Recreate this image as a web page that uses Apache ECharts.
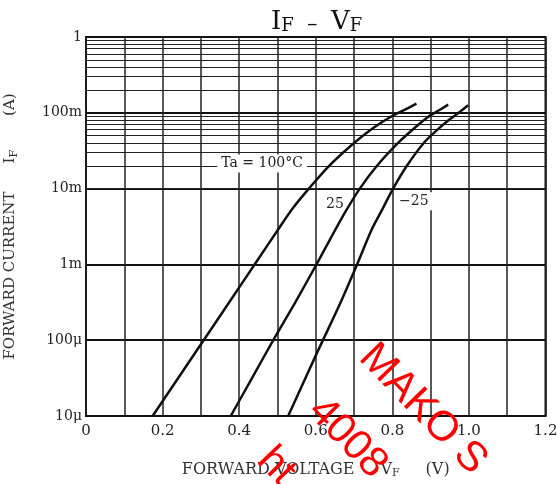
<!DOCTYPE html>
<html>
<head>
<meta charset="utf-8">
<script src="https://cdn.jsdelivr.net/npm/echarts@6/dist/echarts.min.js"></script>
<style>html,body{margin:0;padding:0;background:#fff;}#c{width:557px;height:484px;}</style>
</head>
<body>
<div id="c"></div>
<script>
// ---- data ----
const xTicks = [0, 0.2, 0.4, 0.6, 0.8, 1.0, 1.2];
const yTickValues = [1e-5, 1e-4, 1e-3, 1e-2, 1e-1, 1];
const yTickLabels = ['10μ', '100μ', '1m', '10m', '100m', '1'];
const decades = [1e-5, 1e-4, 1e-3, 1e-2, 1e-1];
const minorMultipliers = [2, 3, 4, 5, 6, 7, 8, 9];

const curve100 = [[0.174,1e-5],[0.298,8.5e-5],[0.371,3e-4],[0.446,1.1e-3],[0.500,2.8e-3],[0.540,5.5e-3],[0.582,1e-2],[0.635,2e-2],[0.700,4e-2],[0.750,6.3e-2],[0.795,8.8e-2],[0.833,1.1e-1],[0.863,1.32e-1]];
const curve25  = [[0.378,1e-5],[0.431,3e-5],[0.489,1e-4],[0.544,3e-4],[0.602,1e-3],[0.650,2.8e-3],[0.678,5e-3],[0.715,1e-2],[0.760,2e-2],[0.815,4e-2],[0.858,6.3e-2],[0.893,8.8e-2],[0.922,1.08e-1],[0.946,1.28e-1]];
const curveM25 = [[0.528,1e-5],[0.602,6.6e-5],[0.663,3e-4],[0.708,1e-3],[0.745,2.8e-3],[0.771,5e-3],[0.802,1e-2],[0.838,2e-2],[0.882,4e-2],[0.918,6e-2],[0.950,8.2e-2],[0.975,1.02e-1],[0.998,1.26e-1]];

const labels = [
  {text: 'Ta = 100°C', at: [0.46, 0.0214]},
  {text: '25', at: [0.65, 0.0062]},
  {text: '−25', at: [0.856, 0.0068]}
];

const serif = '"DejaVu Serif", "Liberation Serif", serif';
const sans = '"Liberation Sans", Arial, sans-serif';

const minorLines = [];
decades.forEach(d => minorMultipliers.forEach(k => minorLines.push({yAxis: +(d * k).toPrecision(3)})));

function lineSeries(data, lab) {
  return {
    type: 'line', data: data, smooth: 0.3, symbol: 'none',
    lineStyle: {color: '#111', width: 2.5}, z: 5,
    markPoint: {
      symbol: 'rect', symbolSize: 0, silent: true,
      data: [{coord: lab.at, value: lab.text}],
      label: {show: true, formatter: lab.text, color: '#222', fontFamily: serif, fontSize: 14,
        backgroundColor: '#fff', padding: [2, 4], position: 'inside'}
    }
  };
}

const chart = echarts.init(document.getElementById('c'), null, {renderer: 'canvas'});
const series = [
  lineSeries(curve100, labels[0]),
  lineSeries(curve25, labels[1]),
  lineSeries(curveM25, labels[2])
];
series[0].markLine = {
  silent: true, symbol: 'none', animation: false,
  label: {show: false},
  lineStyle: {color: '#222', width: 1, type: 'solid'},
  data: minorLines
};

chart.setOption({
  animation: false,
  title: {
    text: '{i|I}{s|F}{d|  –  }{i|V}{s|F}',
    left: 266, top: 3,
    textStyle: {
      fontWeight: 'normal',
      rich: {
        i: {fontFamily: serif, fontSize: 26, fontWeight: 'normal', color: '#111', verticalAlign: 'bottom', lineHeight: 27},
        d: {fontFamily: serif, fontSize: 21, fontWeight: 'normal', color: '#111', verticalAlign: 'bottom', lineHeight: 27},
        s: {fontFamily: serif, fontSize: 18, fontWeight: 'normal', color: '#111', verticalAlign: 'bottom', lineHeight: 21}
      }
    }
  },
  grid: {left: 86, right: 11.5, top: 37, bottom: 68, show: true, borderColor: '#111', borderWidth: 2,
         containLabel: false, outerBoundsMode: 'none'},
  xAxis: {
    type: 'value', min: 0, max: 1.2, interval: 0.1,
    name: '{n|FORWARD VOLTAGE}{g|}{n|V}{s|F}{g|}{n|(V)}',
    nameLocation: 'middle', nameGap: 44,
    nameTextStyle: {rich: {
      n: {fontFamily: serif, fontSize: 16, color: '#333'},
      g: {width: 26},
      s: {fontFamily: serif, fontSize: 11, color: '#333', padding: [8,0,0,0]}
    }},
    axisLine: {show: false}, axisTick: {show: false},
    axisLabel: {
      margin: 8, fontFamily: serif, fontSize: 15, color: '#222',
      formatter: v => {
        const r = Math.round(v * 10) / 10;
        const hit = xTicks.find(t => Math.abs(t - r) < 1e-6);
        if (hit === undefined) return '';
        return hit === 0 ? '0' : hit.toFixed(1);
      }
    },
    splitLine: {show: true, lineStyle: {color: '#222', width: 1.5}}
  },
  yAxis: {
    type: 'log', logBase: 10, min: 1e-5, max: 1,
    name: '{n|FORWARD CURRENT}{g|}{n|I}{s|F}{g2|}{n|(A)}',
    nameLocation: 'middle', nameGap: 66, nameRotate: 90,
    nameTextStyle: {rich: {
      n: {fontFamily: serif, fontSize: 15, color: '#333'},
      g: {width: 28},
      g2: {width: 34},
      s: {fontFamily: serif, fontSize: 11, color: '#333', padding: [8,0,0,0]}
    }},
    axisLine: {show: false}, axisTick: {show: false},
    axisLabel: {
      margin: 4, fontFamily: serif, fontSize: 14, color: '#222',
      formatter: v => {
        const i = yTickValues.findIndex(t => Math.abs(Math.log10(t) - Math.log10(v)) < 1e-6);
        return i >= 0 ? yTickLabels[i] : '';
      }
    },
    splitLine: {show: true, lineStyle: {color: '#111', width: 2.2}}
  },
  series: series,
  graphic: [
    {type: 'text', x: 381, y: 336, rotation: -0.80, z: 100, silent: true,
     style: {text: 'MAKO S', fill: '#ff0000', font: '42px ' + sans, textVerticalAlign: 'top'}},
    {type: 'text', x: 330, y: 390, rotation: -0.80, z: 100, silent: true,
     style: {text: '4008', fill: '#ff0000', font: '42px ' + sans, textVerticalAlign: 'top'}},
    {type: 'text', x: 279, y: 439, rotation: -0.80, z: 100, silent: true,
     style: {text: 'ht', fill: '#ff0000', font: '42px ' + sans, textVerticalAlign: 'top'}}
  ]
});
</script>
</body>
</html>
